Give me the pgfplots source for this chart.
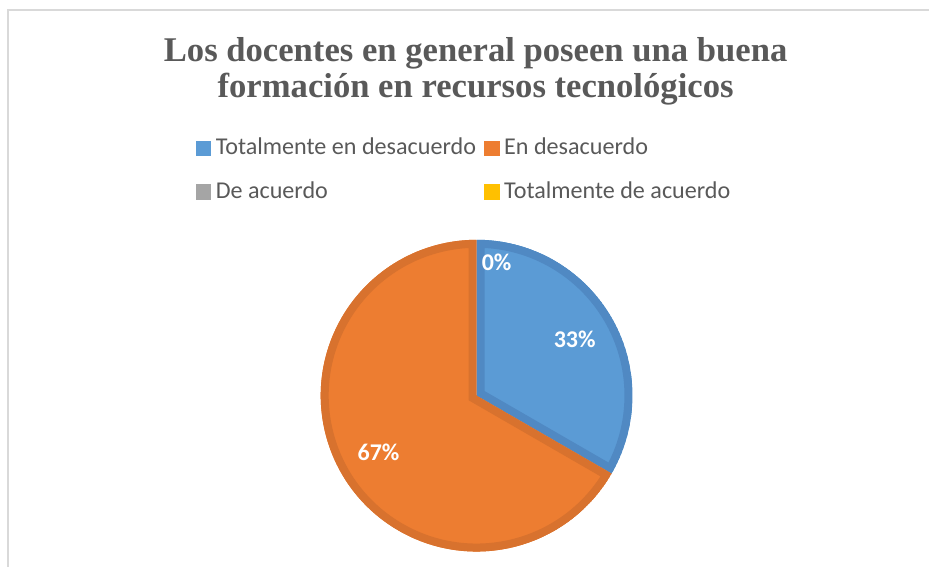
\documentclass[border=0pt]{standalone}
\usepackage{pgfplots}
\usepackage{pgfplotstable}
\pgfplotsset{compat=1.18}
\usetikzlibrary{calc}
\usepackage{fontspec}
\setmainfont{Carlito}
\newfontfamily\titlefont{Liberation Serif}

\definecolor{blueA}{HTML}{5B9BD5}
\definecolor{blueB}{HTML}{5089C3}
\definecolor{orangeA}{HTML}{ED7D31}
\definecolor{orangeB}{HTML}{D8722E}
\definecolor{grayA}{HTML}{A5A5A5}
\definecolor{goldA}{HTML}{FFC000}
\definecolor{txt}{HTML}{595959}
\definecolor{framec}{HTML}{D9D9D9}

% percentages per answer
\pgfplotstableread{
cat value
1 33.33
2 66.67
3 0
4 0
}\piedata

\begin{document}
\begin{tikzpicture}
% angles from the data (clockwise from 12 o'clock)
\pgfplotstablegetelem{0}{value}\of\piedata \pgfmathsetmacro\va{\pgfplotsretval}
\pgfplotstablegetelem{1}{value}\of\piedata \pgfmathsetmacro\vb{\pgfplotsretval}
\pgfplotstablegetelem{2}{value}\of\piedata \pgfmathsetmacro\vc{\pgfplotsretval}
\pgfplotstablegetelem{3}{value}\of\piedata \pgfmathsetmacro\vd{\pgfplotsretval}
\pgfmathsetmacro\tot{\va+\vb+\vc+\vd}
\pgfmathsetmacro\aA{90}
\pgfmathsetmacro\aB{\aA-360*(\va/\tot)}
\pgfmathsetmacro\aC{\aB-360*(\vb/\tot)}
\pgfmathsetmacro\mA{(\aA+\aB)/2}
\pgfmathsetmacro\mB{(\aB+\aC)/2}
\pgfmathtruncatemacro\pa{round(100*(\va/\tot))}
\pgfmathtruncatemacro\pb{round(100*(\vb/\tot))}
\pgfmathtruncatemacro\pc{round(100*(\vc/\tot))}
\newcommand\slice[4]{%
  \begin{scope}
    \clip (axis cs:477,171) -- ++(#1:117pt) arc[start angle=#1,end angle=#2,radius=117pt] -- cycle;
    \fill[#3] (axis cs:477,171) -- ++(#1:117pt) arc[start angle=#1,end angle=#2,radius=117pt] -- cycle;
    \draw[#4,line width=12pt,line join=miter] (axis cs:477,171) -- ++(#1:117pt) arc[start angle=#1,end angle=#2,radius=117pt] -- cycle;
  \end{scope}}
\begin{axis}[
  width=697.5pt, height=425.25pt, scale only axis,
  xmin=0, xmax=930, ymin=0, ymax=567,
  hide axis, clip=false,
  legend columns=2,
  legend style={at={(axis cs:195.5,429.7)}, anchor=north west, draw=none, fill=none,
    inner sep=0pt, text=txt, font=\fontsize{18.1pt}{21pt}\selectfont,
    nodes={inner sep=0pt, text height=12.5pt, text depth=3.5pt, anchor=west},
    /tikz/every even column/.append style={column sep=6pt},
    /tikz/every odd column/.append style={column sep=3.75pt},
    row sep=17pt},
  legend image code/.code={\fill[#1] (0pt,-5.5pt) rectangle (11pt,5.5pt);},
]
\addlegendimage{blueA}\addlegendentry{Totalmente en desacuerdo}
\addlegendimage{orangeA}\addlegendentry{En desacuerdo}
\addlegendimage{grayA}\addlegendentry{De acuerdo}
\addlegendimage{goldA}\addlegendentry{Totalmente de acuerdo}

\path (axis cs:0,0) rectangle (axis cs:930,567);
\draw[framec,line width=1.2pt] (axis cs:8,0) -- (axis cs:8,557) -- (axis cs:930,557);

\node[text=txt, align=center, font=\titlefont\bfseries\fontsize{26pt}{27pt}\selectfont]
  at (axis cs:476,496) {Los docentes en general poseen una buena\\formación en recursos tecnológicos};

\slice{\aA}{\aB}{blueA}{blueB}
\slice{\aB}{\aC}{orangeA}{orangeB}

\node[text=white, font=\bfseries\fontsize{18pt}{20pt}\selectfont] at ($(axis cs:477,171)+(\mA:85pt)$) {\pa\%};
\node[text=white, font=\bfseries\fontsize{18pt}{20pt}\selectfont] at ($(axis cs:477,171)+(\mB:85pt)$) {\pb\%};
\node[text=white, font=\bfseries\fontsize{18pt}{20pt}\selectfont] at ($(axis cs:477,171)+(15pt,100pt)$) {\pc\%};
\end{axis}
\end{tikzpicture}
\end{document}
